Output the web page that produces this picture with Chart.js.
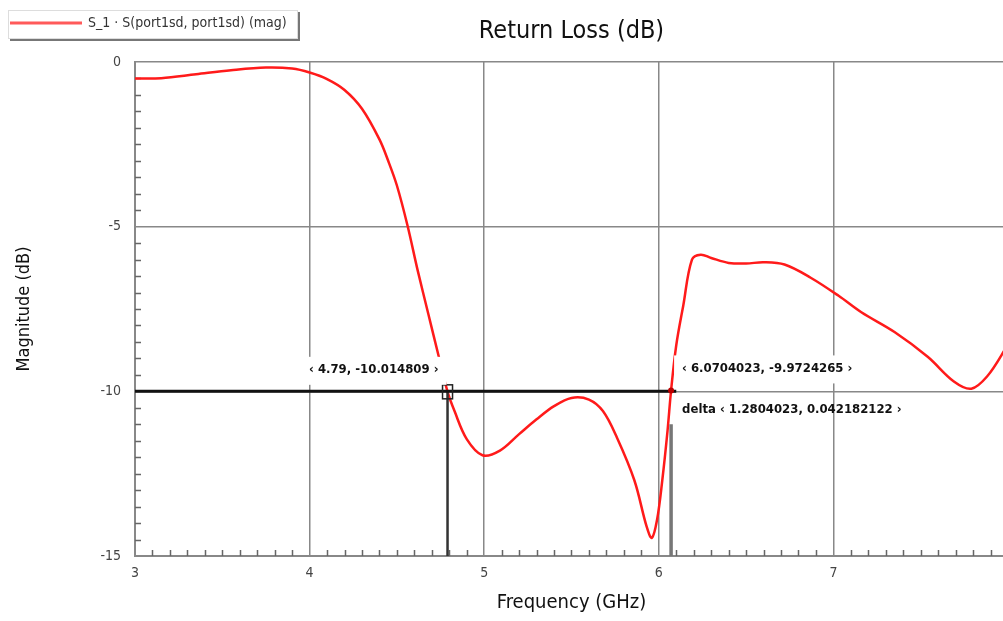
<!DOCTYPE html>
<html>
<head>
<meta charset="utf-8">
<script src="https://cdn.jsdelivr.net/npm/chart.js@4"></script>
<style>
  html, body { margin: 0; padding: 0; background: #fff; overflow: hidden; }
  #chart { display: block; }
</style>
</head>
<body>
<canvas id="chart" width="1021" height="621" style="width:1021px;height:621px"></canvas>
<script>
// S11 magnitude
const freq = [3.0, 3.15, 3.35, 3.55, 3.75, 3.9, 4.0, 4.1, 4.2, 4.3, 4.4, 4.45, 4.5, 4.56, 4.62, 4.68, 4.74, 4.79,
  4.83, 4.9, 4.99, 5.09, 5.2, 5.3, 5.4, 5.5, 5.6, 5.68, 5.76, 5.86, 5.93, 5.96, 5.99, 6.02, 6.05, 6.0704,
  6.1, 6.14, 6.19, 6.24, 6.3, 6.4, 6.5, 6.6, 6.72, 6.87, 7.03, 7.16, 7.35, 7.54, 7.69, 7.79, 7.88, 7.98, 8.0];
const mag = [-0.5, -0.49, -0.37, -0.25, -0.17, -0.2, -0.32, -0.52, -0.85, -1.42, -2.35, -3.0, -3.75, -4.95, -6.35, -7.65, -8.95, -10.01,
  -10.6, -11.45, -11.94, -11.8, -11.3, -10.85, -10.45, -10.2, -10.25, -10.6, -11.4, -12.7, -14.1, -14.45, -13.9, -12.7, -11.2, -9.97,
  -8.6, -7.4, -6.0, -5.85, -5.95, -6.1, -6.12, -6.08, -6.15, -6.55, -7.1, -7.6, -8.2, -8.95, -9.7, -9.92, -9.55, -8.75, -8.5];

const seriesName = 'S_1 \u00b7 S(port1sd, port1sd) (mag)';
const markerFreq = [4.79, 6.0704023];
const markerMag = [-10.014809, -9.9724265];
const deltaVals = [1.2804023, 0.042182122];
const refLevel = -10;

const FONT = '"DejaVu Sans Condensed", "Liberation Sans Narrow", sans-serif';

const pts = freq.map((f, i) => ({ x: f, y: mag[i] }));

const annot = {
  id: 'annot',
  beforeDatasetsDraw(chart) {
    const { ctx, scales: { x, y }, chartArea: a } = chart;
    ctx.save();
    ctx.strokeStyle = '#666';
    ctx.lineWidth = 1.5;
    ctx.beginPath();
    for (let i = 1; i < 30; i++) {
      if (i % 10 === 0) continue;
      const py = Math.round(y.getPixelForValue(-15 + i * 0.5)) + 0.5;
      ctx.moveTo(a.left, py); ctx.lineTo(a.left + 6, py);
    }
    for (let i = 1; i < 50; i++) {
      if (i % 10 === 0) continue;
      const px = Math.round(x.getPixelForValue(3 + i * 0.1)) + 0.5;
      ctx.moveTo(px, a.bottom); ctx.lineTo(px, a.bottom - 6);
    }
    ctx.stroke();
    ctx.restore();
  },
  afterDatasetsDraw(chart) {
    const { ctx, scales: { x, y } } = chart;
    const p1x = x.getPixelForValue(markerFreq[0]), p1y = y.getPixelForValue(markerMag[0]);
    const p2x = x.getPixelForValue(markerFreq[1]), p2y = y.getPixelForValue(markerMag[1]);
    ctx.save();
    // marker symbols
    ctx.strokeStyle = '#222';
    ctx.lineWidth = 1.5;
    ctx.strokeRect(p1x - 5, p1y - 7, 10, 14);
    ctx.fillStyle = '#b00';
    ctx.beginPath(); ctx.arc(p2x, p2y, 3, 0, Math.PI * 2); ctx.fill();
    // marker readouts with white backing
    ctx.font = 'bold 13px ' + FONT;
    ctx.textBaseline = 'middle';
    const label = (txt, lx, ly, align) => {
      const w = ctx.measureText(txt).width;
      const left = align === 'right' ? lx - w : lx;
      ctx.fillStyle = '#fff';
      ctx.fillRect(left - 8, ly - 13, w + 16, 28);
      ctx.fillStyle = '#111';
      ctx.textAlign = 'left';
      ctx.fillText(txt, left, ly);
    };
    label('\u2039 ' + markerFreq[0] + ', ' + markerMag[0] + ' \u203a', p1x - 9, p1y - 22, 'right');
    label('\u2039 ' + markerFreq[1] + ', ' + markerMag[1] + ' \u203a', p2x + 11, p2y - 22, 'left');
    ctx.fillStyle = '#111';
    ctx.fillText('delta \u2039 ' + deltaVals[0] + ', ' + deltaVals[1] + ' \u203a', p2x + 11, p2y + 19);
    ctx.restore();
  },
  afterDraw(chart) {
    const { ctx, chartArea: a } = chart;
    ctx.save();
    // title
    ctx.fillStyle = '#111';
    ctx.font = '25px ' + FONT;
    ctx.textAlign = 'center';
    ctx.textBaseline = 'middle';
    ctx.fillText('Return Loss (dB)', (a.left + a.right) / 2, 31);
    // legend box
    ctx.fillStyle = '#fff';
    ctx.fillRect(8, 10, 290, 28);
    ctx.strokeStyle = '#ddd'; ctx.lineWidth = 1;
    ctx.strokeRect(8.5, 10.5, 289, 28);
    ctx.strokeStyle = '#777'; ctx.lineWidth = 2;
    ctx.beginPath();
    ctx.moveTo(10, 40); ctx.lineTo(299, 40); ctx.lineTo(299, 12);
    ctx.stroke();
    ctx.strokeStyle = '#ff5a5a'; ctx.lineWidth = 3;
    ctx.beginPath(); ctx.moveTo(10, 23); ctx.lineTo(82, 23); ctx.stroke();
    ctx.fillStyle = '#333';
    ctx.font = '14px ' + FONT;
    ctx.textAlign = 'left';
    ctx.fillText(seriesName, 88, 23);
    ctx.restore();
  }
};

new Chart(document.getElementById('chart'), {
  type: 'line',
  data: {
    datasets: [
      {
        label: seriesName,
        data: pts,
        borderColor: '#ff1a1a',
        borderWidth: 2.5,
        pointRadius: 0,
        tension: 0.35,
        order: 3
      },
      {
        data: [{ x: 3, y: refLevel }, { x: 6.1, y: refLevel }],
        borderColor: '#111',
        borderWidth: 3,
        pointRadius: 0,
        order: 1
      },
      {
        data: [{ x: markerFreq[0], y: markerMag[0] }, { x: markerFreq[0], y: -15 }],
        borderColor: '#333',
        borderWidth: 2.5,
        pointRadius: 0,
        order: 1
      },
      {
        data: [{ x: markerFreq[1], y: -11 }, { x: markerFreq[1], y: -15 }],
        borderColor: '#777',
        borderWidth: 3.5,
        pointRadius: 0,
        order: 2
      }
    ]
  },
  options: {
    responsive: false,
    animation: false,
    devicePixelRatio: 1,
    layout: { padding: { left: 0, top: 62, right: 5, bottom: 0 } },
    plugins: {
      legend: { display: false },
      tooltip: { enabled: false },
      title: { display: false }
    },
    scales: {
      x: {
        type: 'linear',
        min: 3,
        max: 8,
        ticks: { stepSize: 1, padding: 9, color: '#444', font: { family: FONT, size: 14 } },
        grid: { color: '#888', lineWidth: 1.5, drawTicks: false },
        border: { color: '#888', width: 2 },
        title: { display: true, text: 'Frequency (GHz)', color: '#111', font: { family: FONT, size: 20 }, padding: { top: 0, bottom: 6 } },
        afterFit: s => { s.height = 65; }
      },
      y: {
        min: -15,
        max: 0,
        ticks: { stepSize: 5, padding: 14, color: '#444', font: { family: FONT, size: 14 } },
        grid: { color: '#888', lineWidth: 1.5, drawTicks: false },
        border: { color: '#888', width: 2 },
        title: { display: true, text: 'Magnitude (dB)', color: '#111', font: { family: FONT, size: 18 }, padding: { top: 14, bottom: 0 } },
        afterFit: s => { s.width = 135; }
      }
    }
  },
  plugins: [annot]
});
</script>
</body>
</html>
